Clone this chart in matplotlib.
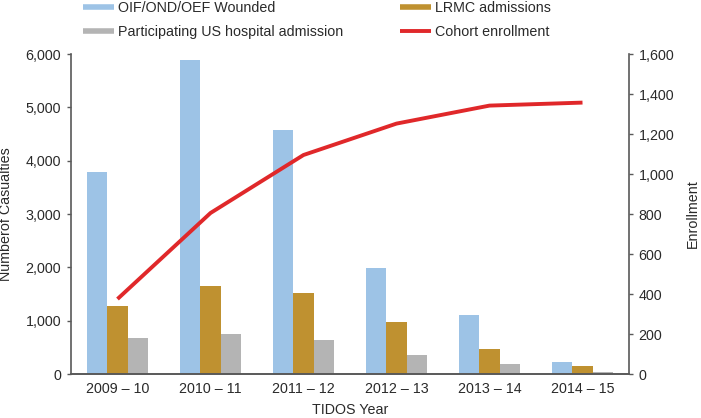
import matplotlib
matplotlib.use("Agg")
import matplotlib.pyplot as plt
import numpy as np
from matplotlib.lines import Line2D
from matplotlib.ticker import FuncFormatter

plt.rcParams['font.family'] = ['Liberation Sans', 'DejaVu Sans']
fs = 10.3

categories = ["2009 \u2013 10", "2010 \u2013 11", "2011 \u2013 12", "2012 \u2013 13", "2013 \u2013 14", "2014 \u2013 15"]
wounded = [3780, 5890, 4580, 1990, 1115, 225]
lrmc = [1280, 1655, 1520, 975, 465, 150]
us_hospital = [680, 750, 630, 365, 195, 30]
enrollment = [375, 805, 1095, 1252, 1342, 1357]

c_blue = "#9DC3E6"
c_gold = "#BF9130"
c_gray = "#B4B4B4"
c_red = "#E0282A"
c_spine = "#595959"
c_text = "#2A2A2A"

fig = plt.figure(figsize=(7.01, 4.18), dpi=100)
ax = fig.add_axes([71/701, 1-374/418, (629-71)/701, (374-54)/418])
ax2 = ax.twinx()

x = np.arange(len(categories))
w = 0.222
ax.bar(x - w, wounded, w, color=c_blue)
ax.bar(x, lrmc, w, color=c_gold)
ax.bar(x + w, us_hospital, w, color=c_gray)
ax2.plot(x, enrollment, color=c_red, lw=2.8, solid_capstyle='butt')

ax.set_xlim(-0.5, len(categories) - 0.5)
ax.set_ylim(0, 6000)
ax.set_yticks(np.arange(0, 6001, 1000))
ax2.set_ylim(0, 1600)
ax2.set_yticks(np.arange(0, 1601, 200))
fmt = FuncFormatter(lambda v, p: f"{int(v):,}")
ax.yaxis.set_major_formatter(fmt)
ax2.yaxis.set_major_formatter(fmt)
ax.set_xticks(x)
ax.set_xticklabels(categories)

for a in (ax, ax2):
    a.spines['top'].set_visible(False)
    for s in ('left', 'right', 'bottom'):
        a.spines[s].set_color(c_spine)
        a.spines[s].set_linewidth(1.2)
    a.tick_params(axis='y', colors=c_spine, labelcolor=c_text, labelsize=fs, length=3, width=1, pad=4)
ax.tick_params(axis='x', length=0, labelsize=fs, labelcolor=c_text, pad=6)
ax2.spines['left'].set_visible(False)
ax.spines['right'].set_visible(False)

ax.set_xlabel("TIDOS Year", fontsize=fs, color=c_text, labelpad=5)
ax.set_ylabel("Numberof Casualties", fontsize=fs, color=c_text, labelpad=9)
ax2.set_ylabel("Enrollment", fontsize=fs, color=c_text, labelpad=8)

h_blue = Line2D([], [], color=c_blue, lw=4, solid_capstyle='butt')
h_gray = Line2D([], [], color=c_gray, lw=4, solid_capstyle='butt')
h_gold = Line2D([], [], color=c_gold, lw=4, solid_capstyle='butt')
h_red = Line2D([], [], color=c_red, lw=2.8, solid_capstyle='butt')

common = dict(loc='upper left', frameon=False, fontsize=fs, handlelength=2.2,
              handletextpad=0.25, labelspacing=0.72, borderpad=0, borderaxespad=0)
leg1 = fig.legend([h_blue, h_gray], ["OIF/OND/OEF Wounded", "Participating US hospital admission"],
                  bbox_to_anchor=(83/701, 1 - 1/418), **common)
for t in leg1.get_texts():
    t.set_color(c_text)
leg2 = fig.legend([h_gold, h_red], ["LRMC admissions", "Cohort enrollment"],
                  bbox_to_anchor=(400/701, 1 - 1/418), **common)
for t in leg2.get_texts():
    t.set_color(c_text)

fig.savefig("out.png", dpi=100)
